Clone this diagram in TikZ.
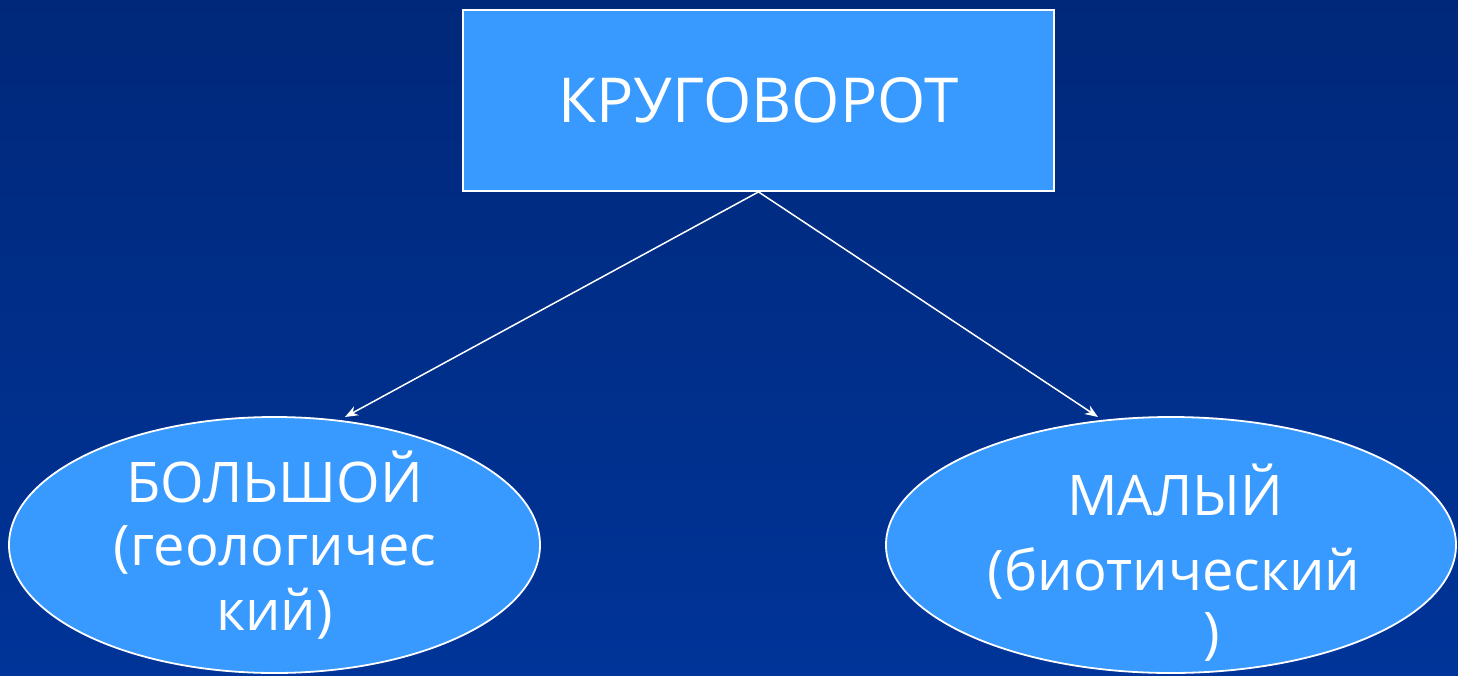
\documentclass[tikz,border=0pt]{standalone}
\usepackage{fontspec}
\setmainfont{Open Sans}
\usetikzlibrary{shapes.geometric,arrows.meta}
\definecolor{boxblue}{RGB}{56,153,255}
\definecolor{bgtop}{RGB}{0,40,122}
\definecolor{bgbot}{RGB}{0,52,152}
\tikzset{
  box/.style={draw=white, line width=1.8pt, fill=boxblue, text=white, inner sep=0pt},
  oval/.style={ellipse, draw=white, line width=1.8pt, fill=boxblue, inner sep=0pt},
  lbl/.style={text=white, inner sep=0pt, anchor=base, font=\fontsize{56}{64}\selectfont},
  conn/.style={draw=white, line width=1.5pt, -{Stealth[length=13pt,width=10pt]}}
}
\begin{document}
\begin{tikzpicture}[x=1pt,y=-1pt]
\shade[top color=bgtop, bottom color=bgbot] (0,0) rectangle (1458,675);
\useasboundingbox (0,0) rectangle (1458,675);
\node[box, minimum width=591pt, minimum height=181pt, font=\fontsize{62}{70}\selectfont] (top) at (758.5,100.5) {КРУГОВОРОТ};
\node[oval, minimum width=531pt, minimum height=256pt] (big) at (274.5,545) {};
\node[lbl] (big1) at (274.5,502) {БОЛЬШОЙ};
\node[lbl] (big2) at (275,565) {(геологичес};
\node[lbl] (big3) at (274.5,630) {кий)};
\node[oval, minimum width=570pt, minimum height=256pt] (small) at (1171,545) {};
\node[lbl] (small1) at (1175,515) {МАЛЫЙ};
\node[lbl] (small2) at (1174,590) {(биотический};
\node[lbl] (small3) at (1212,652) {)};
\coordinate (la) at (345,417);
\coordinate (ra) at (1098,417);
\draw[conn] (top.south) -- (la);
\draw[conn] (top.south) -- (ra);
\end{tikzpicture}
\end{document}
